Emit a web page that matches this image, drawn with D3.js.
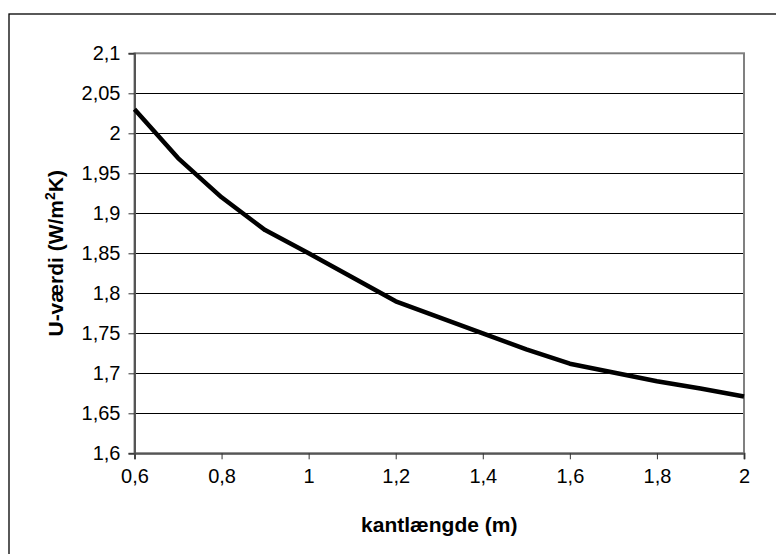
<!DOCTYPE html>
<html>
<head>
<meta charset="utf-8">
<script src="https://cdn.jsdelivr.net/npm/d3@7"></script>
<style>
  html, body { margin: 0; padding: 0; background: #fff; }
  svg { display: block; }
  text { font-family: Arial, "Liberation Sans", sans-serif; fill: #000; }
</style>
</head>
<body>
<svg id="chart" width="776" height="554"></svg>
<script>
// Edge length (m) against U-value (W/m²K)
const edgeLength = [0.6, 0.7, 0.8, 0.9, 1.0, 1.1, 1.2, 1.3, 1.4, 1.5, 1.6, 1.7, 1.8, 1.9, 2.0];
const uValue = [2.03, 1.969, 1.92, 1.879, 1.85, 1.82, 1.79, 1.77, 1.75, 1.73, 1.712, 1.701, 1.69, 1.681, 1.671];

const xTicks = [0.6, 0.8, 1.0, 1.2, 1.4, 1.6, 1.8, 2.0];
const xTickLabels = ["0,6", "0,8", "1", "1,2", "1,4", "1,6", "1,8", "2"];
const yTicks = [1.6, 1.65, 1.7, 1.75, 1.8, 1.85, 1.9, 1.95, 2.0, 2.05, 2.1];
const yTickLabels = ["1,6", "1,65", "1,7", "1,75", "1,8", "1,85", "1,9", "1,95", "2", "2,05", "2,1"];

const xTitle = "kantlængde (m)";

const W = 776, H = 554;
const plot = { left: 134.5, right: 744, top: 53.3, bottom: 453.3 };

const svg = d3.select("#chart");

// outer chart frame (right and bottom edges run past the page)
svg.append("rect")
  .attr("x", 9).attr("y", 14)
  .attr("width", W + 20).attr("height", H + 20)
  .attr("fill", "#fff").attr("stroke", "#000").attr("stroke-width", 1.3);

const x = d3.scaleLinear().domain([0.6, 2.0]).range([plot.left, plot.right]);
const y = d3.scaleLinear().domain([1.6, 2.1]).range([plot.bottom, plot.top]);

// plot area
svg.append("rect")
  .attr("x", plot.left).attr("y", plot.top)
  .attr("width", plot.right - plot.left).attr("height", plot.bottom - plot.top)
  .attr("fill", "#fff");

// horizontal gridlines
svg.append("g")
  .selectAll("line")
  .data(yTicks.filter(v => v > 1.6 && v < 2.1))
  .join("line")
  .attr("x1", plot.left).attr("x2", plot.right)
  .attr("y1", d => Math.round(y(d)) + 0.5).attr("y2", d => Math.round(y(d)) + 0.5)
  .attr("stroke", "#000").attr("stroke-width", 1);

// plot border
svg.append("rect")
  .attr("x", plot.left).attr("y", plot.top)
  .attr("width", plot.right - plot.left).attr("height", plot.bottom - plot.top)
  .attr("fill", "none").attr("stroke", "#808080").attr("stroke-width", 2);

// y axis
const yAxis = d3.axisLeft(y)
  .tickValues(yTicks)
  .tickSize(6)
  .tickPadding(8)
  .tickFormat((d, i) => yTickLabels[i]);
const gy = svg.append("g")
  .attr("transform", `translate(${plot.left},0)`)
  .call(yAxis);
gy.select(".domain").attr("stroke", "#555").attr("stroke-width", 2);
gy.selectAll(".tick line").attr("stroke", "#333").attr("stroke-width", 1);
gy.selectAll(".tick text")
  .attr("font-size", 20)
  .attr("font-family", "Arial, 'Liberation Sans', sans-serif")
  .attr("fill", "#000");

// x axis
const xAxis = d3.axisBottom(x)
  .tickValues(xTicks)
  .tickSize(6)
  .tickPadding(10)
  .tickFormat((d, i) => xTickLabels[i]);
const gx = svg.append("g")
  .attr("transform", `translate(0,${plot.bottom})`)
  .call(xAxis);
gx.select(".domain").attr("stroke", "#555").attr("stroke-width", 2);
gx.selectAll(".tick line").attr("stroke", "#333").attr("stroke-width", 1);
gx.selectAll(".tick text")
  .attr("font-size", 20)
  .attr("font-family", "Arial, 'Liberation Sans', sans-serif")
  .attr("fill", "#000");

// data line
const line = d3.line()
  .x((d, i) => x(edgeLength[i]))
  .y(d => y(d))
  .curve(d3.curveLinear);
svg.append("path")
  .datum(uValue)
  .attr("d", line)
  .attr("fill", "none")
  .attr("stroke", "#000")
  .attr("stroke-width", 4.5)
  .attr("stroke-linejoin", "round");

// axis titles
svg.append("text")
  .attr("x", (plot.left + plot.right) / 2)
  .attr("y", 532)
  .attr("text-anchor", "middle")
  .attr("font-size", 21)
  .attr("font-weight", "bold")
  .text(xTitle);

const yt = svg.append("text")
  .attr("transform", `translate(63,${(plot.top + plot.bottom) / 2}) rotate(-90)`)
  .attr("text-anchor", "middle")
  .attr("font-size", 21)
  .attr("font-weight", "bold");
yt.append("tspan").text("U-værdi (W/m");
yt.append("tspan").attr("dy", -8).attr("font-size", 14).text("2");
yt.append("tspan").attr("dy", 8).text("K)");
</script>
</body>
</html>
